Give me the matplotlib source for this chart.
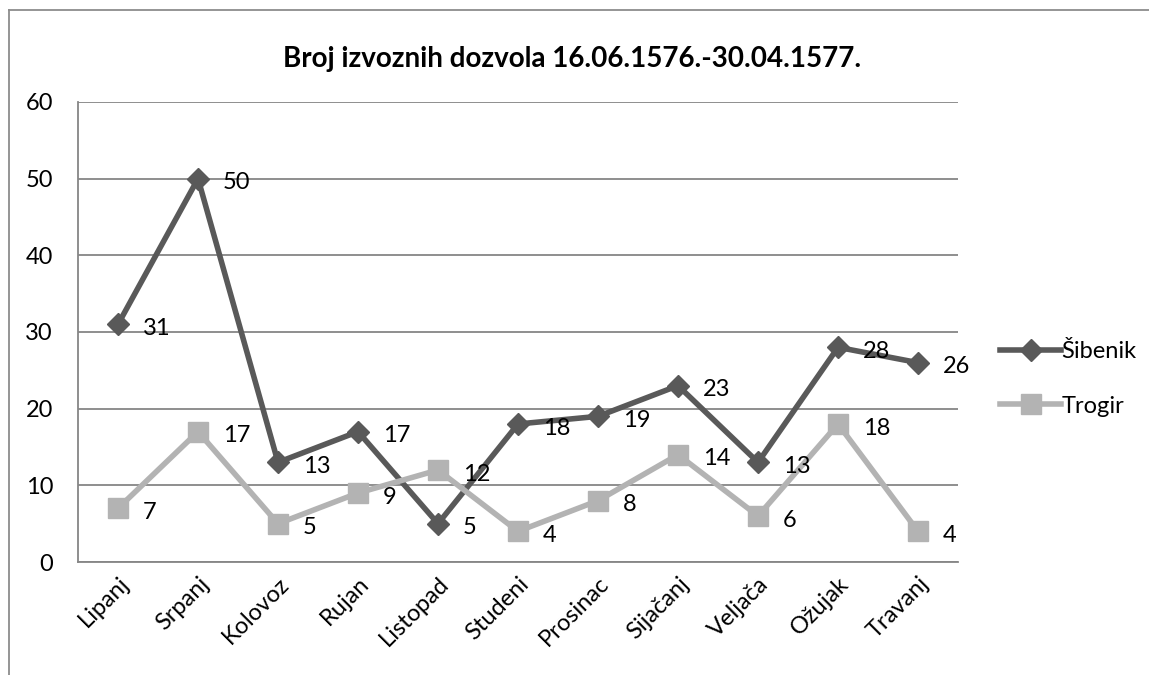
import matplotlib.pyplot as plt
from matplotlib.lines import Line2D

plt.rcParams['font.family'] = ['Lato', 'DejaVu Sans']

months = ['Lipanj', 'Srpanj', 'Kolovoz', 'Rujan', 'Listopad', 'Studeni',
          'Prosinac', 'Sijačanj', 'Veljača', 'Ožujak', 'Travanj']
sibenik = [31, 50, 13, 17, 5, 18, 19, 23, 13, 28, 26]
trogir = [7, 17, 5, 9, 12, 4, 8, 14, 6, 18, 4]
yticks = [0, 10, 20, 30, 40, 50, 60]

grid_col = '#868686'
sib_col = '#595959'
tro_col = '#b3b3b3'

fig = plt.figure(figsize=(11.49, 6.75), dpi=100)
ax = fig.add_axes([0.0679, 0.1674, 0.7659, 0.6815])

x = list(range(len(months)))
ax.plot(x, sibenik, color=sib_col, lw=4, marker='D', ms=11, label='Šibenik', zorder=3)
ax.plot(x, trogir, color=tro_col, lw=4, marker='s', ms=14, label='Trogir', zorder=3)

for i in x:
    ax.annotate(str(sibenik[i]), (i, sibenik[i]), xytext=(18, -3), textcoords='offset points',
                ha='left', va='center', fontsize=17, color='black')
    ax.annotate(str(trogir[i]), (i, trogir[i]), xytext=(18, -3), textcoords='offset points',
                ha='left', va='center', fontsize=17, color='black')

ax.set_xlim(-0.5, len(months) - 0.5)
ax.set_ylim(0, 60)
ax.set_yticks(yticks)
ax.set_xticks(x)
ax.set_xticklabels(months, rotation=45, ha='right', rotation_mode='anchor', fontsize=17)
ax.tick_params(axis='y', length=0, pad=18, labelsize=17)
ax.tick_params(axis='x', length=0, pad=8)
ax.yaxis.grid(True, color=grid_col, lw=1.3)
ax.set_axisbelow(True)
for s in ['top', 'right']:
    ax.spines[s].set_visible(False)
for s in ['left', 'bottom']:
    ax.spines[s].set_color(grid_col)
    ax.spines[s].set_linewidth(1.3)

fig.text(0.498, 0.913, 'Broj izvoznih dozvola 16.06.1576.-30.04.1577.',
         ha='center', va='center', fontsize=20, fontweight='bold')

ax.legend(loc='center left', bbox_to_anchor=(0.862, 1 - 379 / 675), bbox_transform=fig.transFigure,
          frameon=False, fontsize=17, handlelength=2.6, handletextpad=0.0, labelspacing=1.4,
          borderaxespad=0)

# outer chart border (only left and top visible in the crop)
fig.add_artist(Line2D([9 / 1149, 9 / 1149], [0, 1 - 10 / 675], color='#8c8c8c', lw=1.3,
                      transform=fig.transFigure))
fig.add_artist(Line2D([9 / 1149, 1], [1 - 10 / 675, 1 - 10 / 675], color='#8c8c8c', lw=1.3,
                      transform=fig.transFigure))

fig.savefig('out.png', dpi=100)
